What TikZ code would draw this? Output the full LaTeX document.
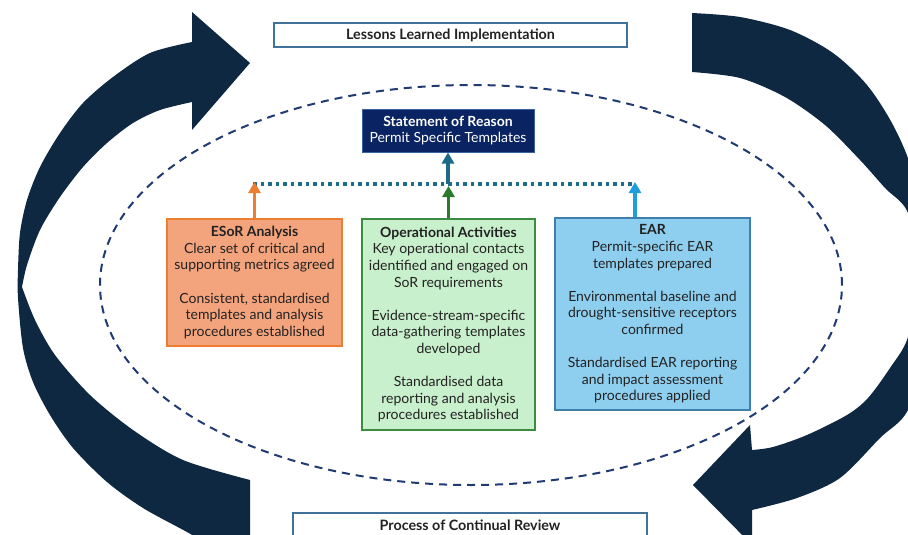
\documentclass[tikz,border=0pt]{standalone}
\usepackage{fontspec}
\setmainfont{Lato}
\usetikzlibrary{arrows.meta}
\definecolor{bignavy}{HTML}{0E2841}
\definecolor{txt}{HTML}{222222}
\definecolor{esorfill}{HTML}{F4A47C}
\definecolor{esorline}{HTML}{ED7D31}
\definecolor{opfill}{HTML}{C9F0CC}
\definecolor{opline}{HTML}{3B8B40}
\definecolor{oparrow}{HTML}{2C7A2C}
\definecolor{earfill}{HTML}{8ECFEF}
\definecolor{earline}{HTML}{3E7FAE}
\definecolor{eararrow}{HTML}{1E9FDB}
\definecolor{sorfill}{HTML}{0A2463}
\definecolor{sorline}{HTML}{3A64A0}
\definecolor{sorarrow}{HTML}{1B6A8A}
\definecolor{lessonline}{HTML}{41729A}
\definecolor{ellcol}{HTML}{203A72}
\definecolor{dotcol}{HTML}{1F6B8A}
\tikzset{
  bodytext/.style={font=\fontsize{14}{16.6}\selectfont, text=txt},
  box/.style={draw, line width=1.3pt, align=center, inner sep=0pt, bodytext},
  esorbox/.style={box, fill=esorfill, draw=esorline, minimum width=175pt, minimum height=127pt},
  opbox/.style={box, fill=opfill, draw=opline, minimum width=173pt, minimum height=211pt},
  earbox/.style={box, fill=earfill, draw=earline, minimum width=195pt, minimum height=192pt},
  sorbox/.style={draw=sorline, line width=1pt, fill=sorfill, text=white, align=center, inner sep=0pt,
     font=\fontsize{14}{16.2}\selectfont, minimum width=172pt, minimum height=43pt},
  framebox/.style={draw=lessonline, line width=1.3pt, fill=white, text=txt, inner sep=0pt,
     font=\fontsize{14.3}{15}\selectfont\bfseries, minimum height=24pt},
  conn/.style={line width=3.5pt, -{Triangle[width=12pt,length=11pt]}},
  dotline/.style={draw=dotcol, line width=3.5pt, dash pattern=on 3.5pt off 4pt},
  ellline/.style={draw=ellcol, line width=2pt, dash pattern=on 8pt off 6pt}
}
\begin{document}
\begin{tikzpicture}[x=1pt,y=-1pt]
\clip (0,0) rectangle (908,535);
\useasboundingbox (0,0) rectangle (908,535);
\fill[white] (0,0) rectangle (908,535);

% left big curved arrow
\fill[bignavy] (250,63) -- (192,12) -- (192,42)
  -- plot[smooth] coordinates {(192,42) (150,53) (113,77) (83,103) (60,133) (40,167) (27,200) (20,233) (18,270) (18,298) (23,348) (33,382) (50,415) (73,448) (107,482) (143,508) (187,532) (200,540)}
  -- (250,540) -- (250,480)
  -- plot[smooth] coordinates {(250,480) (183,460) (133,430) (90,395) (55,355) (35,320) (22,287)}
  -- plot[smooth] coordinates {(22,287) (27,265) (40,230) (60,197) (83,167) (107,143) (133,123) (160,110) (192,102)}
  -- (192,130) -- cycle;

% right big curved arrow
\fill[bignavy] (692,13)
  -- plot[smooth] coordinates {(692,13) (740,17) (790,30) (833,53) (867,85) (893,125) (912,170) (935,260) (930,340) (908,410) (880,438) (840,478) (797,498) (752,510)}
  -- (752,545) -- (693,485) -- (750,425) -- (752,450)
  -- plot[smooth] coordinates {(752,450) (773,447) (807,435) (847,415) (868,398) (890,368) (908,337) (918,275) (908,213) (885,188) (860,160) (825,125) (785,97) (740,78) (692,72)}
  -- cycle;

% dashed ellipse
\draw[ellline] (471,285) ellipse [x radius=371pt, y radius=200pt];

% nodes
\node[framebox, minimum width=353pt] (lessons) at (450.5,35) {Lessons Learned Implementation};
\node[framebox, minimum width=354pt] (review) at (470,525) {Process of Continual Review};
\node[sorbox] (sor) at (448,130.5) {\textbf{Statement of Reason}\\Permit Specific Templates};

\node[esorbox] (esor) at (254.5,282.5) {\textbf{ESoR Analysis}\\Clear set of critical and\\supporting metrics agreed\\[16.6pt]Consistent, standardised\\templates and analysis\\procedures established};
\node[opbox] (op) at (448.5,324.5) {\textbf{Operational Activities}\\Key operational contacts\\identified and engaged on\\SoR requirements\\[16.6pt]Evidence-stream-specific\\data-gathering templates\\developed\\[16.6pt]Standardised data\\reporting and analysis\\procedures established};
\node[earbox] (ear) at (652.5,314) {\textbf{EAR}\\Permit-specific EAR\\templates prepared\\[16.6pt]Environmental baseline and\\drought-sensitive receptors\\confirmed\\[16.6pt]Standardised EAR reporting\\and impact assessment\\procedures applied};

% dotted collector line and arrows
\coordinate (dl) at (253,184);
\coordinate (dr) at (635,184);
\coordinate (dm) at (448,184);
\coordinate (otip) at (254.5,182);
\coordinate (gtip) at (448.5,186);
\coordinate (btip) at (635,182);
\draw[dotline] (dl) -- (dr);
\draw[conn, sorarrow] (dm) -- (sor.south);
\draw[conn, esorline] (esor.north) -- (otip);
\draw[conn, oparrow] (op.north) -- (gtip);
\draw[conn, eararrow] (btip |- ear.north) -- (btip);
\end{tikzpicture}
\end{document}
